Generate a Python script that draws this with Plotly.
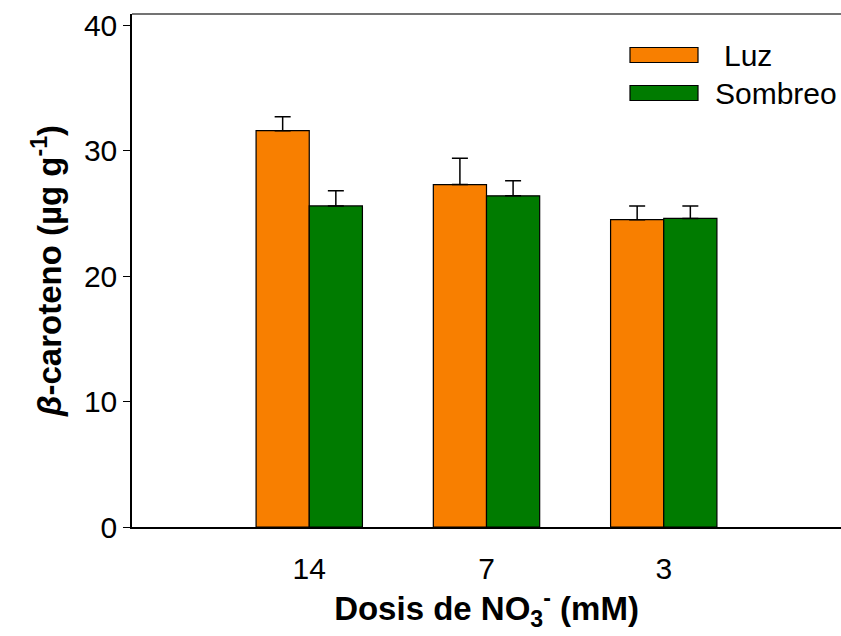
import plotly.graph_objects as go

categories = ["14", "7", "3"]
luz = [31.6, 27.3, 24.5]
luz_err = [1.1, 2.1, 1.1]
sombreo = [25.6, 26.4, 24.6]
sombreo_err = [1.2, 1.2, 1.0]
y_ticks = [0, 10, 20, 30, 40]
series_names = ["Luz", "Sombreo"]

ORANGE = "#F87F00"
GREEN = "#007B00"
FONT = "Liberation Sans, Arial, sans-serif"

x_pos = list(range(len(categories)))

fig = go.Figure()
for name, vals, errs, col in [(series_names[0], luz, luz_err, ORANGE),
                              (series_names[1], sombreo, sombreo_err, GREEN)]:
    fig.add_trace(go.Bar(
        x=x_pos, y=vals, name=name,
        marker=dict(color=col, line=dict(color="black", width=1.2)),
        error_y=dict(type="data", array=errs, arrayminus=[0] * len(errs),
                     symmetric=False, color="black", thickness=1.5, width=8),
        width=0.3, showlegend=False,
    ))

fig.update_layout(
    width=841, height=636,
    margin=dict(l=132, r=0, t=14, b=109),
    paper_bgcolor="white", plot_bgcolor="white",
    barmode="group", bargap=0.4, bargroupgap=0,
    font=dict(family=FONT, size=30, color="black"),
    xaxis=dict(
        range=[-1, 3], tickvals=x_pos, ticktext=categories,
        showline=True, linecolor="black", linewidth=1.5,
        ticks="", showgrid=False, zeroline=False,
        tickfont=dict(size=30), ticklabelstandoff=14,
        title=dict(text="<b>Dosis de NO<sub>3</sub><sup>-</sup> (mM)</b>",
                   font=dict(size=33), standoff=10),
    ),
    yaxis=dict(
        range=[0, 40.9], tickvals=y_ticks,
        showline=True, linecolor="black", linewidth=1.5,
        ticks="outside", ticklen=7, tickwidth=1.2, tickcolor="black",
        showgrid=False, zeroline=False,
        tickfont=dict(size=30),
        title=dict(text="<b><i>β</i>-caroteno (µg g<sup>-1</sup>)</b>",
                   font=dict(size=33), standoff=12),
    ),
)

# top frame line
fig.add_shape(type="line", xref="paper", yref="paper", x0=0, x1=1, y0=1, y1=1,
              line=dict(color="#444", width=1.5))

# legend drawn manually
W = 841 - 132
H = 636 - 14 - 109
def px(x):
    return (x - 132) / W
def py(y):
    return (636 - 109 - y) / H

leg = [(series_names[0], ORANGE, 55, 722), (series_names[1], GREEN, 93, 713)]
for name, col, yc, tx in leg:
    fig.add_shape(type="rect", xref="paper", yref="paper",
                  x0=px(630), x1=px(698), y0=py(yc - 7.5), y1=py(yc + 7.5),
                  fillcolor=col, line=dict(color="black", width=1.2))
    fig.add_annotation(xref="paper", yref="paper", x=px(tx), y=py(yc),
                       text=name, showarrow=False, xanchor="left",
                       yanchor="middle", font=dict(size=30, family=FONT))

fig.write_html("out.html")
